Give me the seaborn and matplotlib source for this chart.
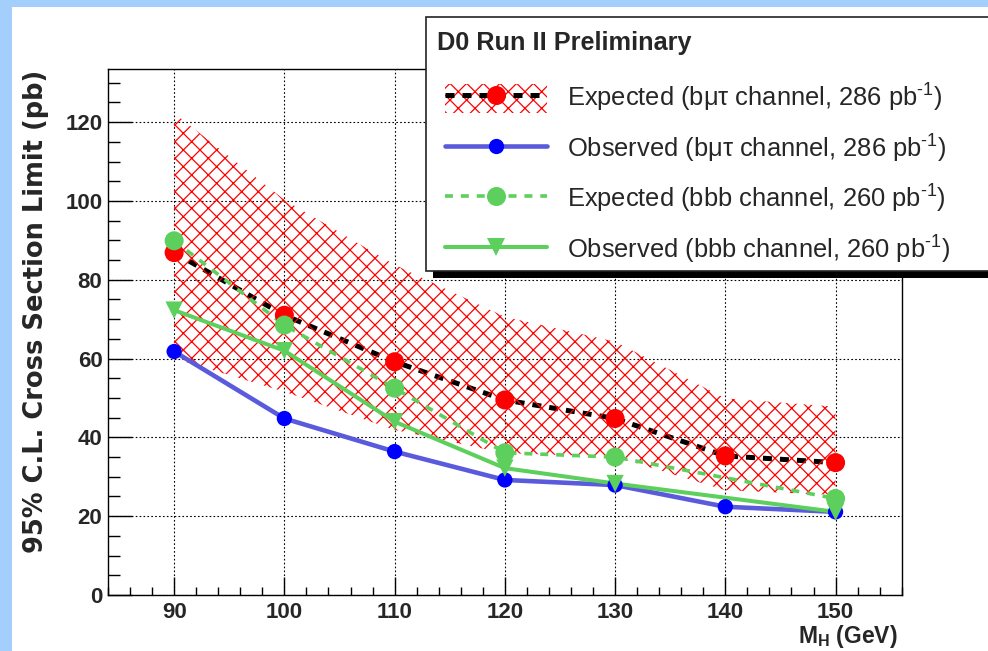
import matplotlib
matplotlib.use("Agg")
import matplotlib.pyplot as plt
import seaborn as sns
from matplotlib.patches import Rectangle, Patch
from matplotlib.lines import Line2D
from matplotlib.ticker import MultipleLocator

# ---------------- data ----------------
mass = [90, 100, 110, 120, 130, 140, 150]
exp_bmt = [86.9, 71.0, 59.2, 49.5, 44.8, 35.3, 33.6]
exp_bmt_lo = [60.0, 51.6, 41.9, 36.0, 35.1, 26.6, 25.4]
exp_bmt_hi = [122.3, 100.3, 83.8, 70.6, 64.3, 49.9, 47.8]
obs_bmt = [61.8, 44.8, 36.4, 29.2, 27.9, 22.4, 21.1]

mass_bbb = [90, 100, 110, 120, 130, 150]
exp_bbb = [89.9, 68.5, 52.5, 36.1, 35.0, 24.5]
obs_bbb = [72.3, 62.0, 44.0, 32.2, 28.3, 21.1]

labels = [
    "Expected (bμτ channel, 286 pb$^{\\text{-}1}$)",
    "Observed (bμτ channel, 286 pb$^{\\text{-}1}$)",
    "Expected (bbb channel, 260 pb$^{\\text{-}1}$)",
    "Observed (bbb channel, 260 pb$^{\\text{-}1}$)",
]
title_text = "D0 Run II Preliminary"
xlabel_text = r"M$_{\mathbf{H}}$ (GeV)"
ylabel_text = "95% C.L. Cross Section Limit (pb)"

# ---------------- style ----------------
sns.set_style("white")
plt.rcParams["font.family"] = ["Liberation Sans", "DejaVu Sans"]
plt.rcParams["mathtext.fontset"] = "custom"
plt.rcParams["mathtext.rm"] = "Liberation Sans"
plt.rcParams["mathtext.bf"] = "Liberation Sans:bold"
plt.rcParams["mathtext.it"] = "Liberation Sans:italic"
plt.rcParams["hatch.linewidth"] = 0.9

RED = "#ff0000"
BLUE_L = "#5a5adc"
BLUE_M = "#0000ff"
GREEN = "#5ccf5c"

W, H = 988, 651
fig = plt.figure(figsize=(W / 100, H / 100), dpi=100, facecolor="#a4cffd")
fig.add_artist(Rectangle((12 / W, 0), 1, 1 - 7 / H, transform=fig.transFigure,
                         facecolor="white", edgecolor="none", zorder=-10))

ax = fig.add_axes([108 / W, 1 - 595 / H, (901.7 - 108) / W, (595 - 69) / H])
ax.set_facecolor("white")

# band
ax.fill_between(mass, exp_bmt_lo, exp_bmt_hi, facecolor="none", edgecolor=RED,
                hatch="xx", linewidth=0, zorder=2.5)

# expected b mu tau
sns.lineplot(x=mass, y=exp_bmt, ax=ax, color="black", lw=3.6,
             linestyle=(0, (1.8, 1.6)), zorder=2)
sns.scatterplot(x=mass, y=exp_bmt, ax=ax, color=RED, s=13.7 ** 2, marker="o",
                edgecolor="none", linewidth=0, zorder=4)

# observed b mu tau
sns.lineplot(x=mass, y=obs_bmt, ax=ax, color=BLUE_L, lw=3.3, zorder=3)
sns.scatterplot(x=mass, y=obs_bmt, ax=ax, color=BLUE_M, s=11.0 ** 2, marker="o",
                edgecolor="none", linewidth=0, zorder=4)

# expected bbb
sns.lineplot(x=mass_bbb, y=exp_bbb, ax=ax, color=GREEN, lw=2.6,
             linestyle=(0, (2.2, 2.2)), zorder=3.2)
sns.scatterplot(x=mass_bbb, y=exp_bbb, ax=ax, color=GREEN, s=13.7 ** 2, marker="o",
                edgecolor="none", linewidth=0, zorder=4.2)

# observed bbb
sns.lineplot(x=mass_bbb, y=obs_bbb, ax=ax, color=GREEN, lw=2.9, zorder=3.3)
sns.scatterplot(x=mass_bbb, y=obs_bbb, ax=ax, color=GREEN, s=12.5 ** 2, marker="v",
                edgecolor="none", linewidth=0, zorder=4.3)

# axes
ax.set_xlim(84, 156)
ax.set_ylim(0, 133.5)
ax.xaxis.set_major_locator(MultipleLocator(10))
ax.xaxis.set_minor_locator(MultipleLocator(2))
ax.yaxis.set_major_locator(MultipleLocator(20))
ax.yaxis.set_minor_locator(MultipleLocator(5))
ax.set_xlabel("")
ax.set_ylabel("")
for s in ax.spines.values():
    s.set_visible(True)
    s.set_color("black")
    s.set_linewidth(1.0)
ax.tick_params(which="both", direction="in", bottom=True, left=True, top=False,
               right=False, color="black", width=1.0)
ax.tick_params(axis="y", which="major", length=17, pad=4, labelsize=16)
ax.tick_params(axis="y", which="minor", length=8.6)
ax.tick_params(axis="x", which="major", length=13, pad=5, labelsize=16)
ax.tick_params(axis="x", which="minor", length=5.5)
for lab in ax.get_xticklabels() + ax.get_yticklabels():
    lab.set_fontweight("bold")
ax.set_axisbelow(True)
ax.grid(True, which="major", color="black", linestyle=(0, (1.5, 2.0)), linewidth=0.8)

fig.text(898 / W, 1 - 643 / H, xlabel_text, ha="right", va="baseline",
         fontsize=16.5, fontweight="bold")
fig.text(36 / W, 1 - 70 / H, ylabel_text, rotation=90, ha="center", va="top",
         fontsize=18.5, fontweight="bold", family=["DejaVu Sans"])

# legend box with shadow
fig.add_artist(Rectangle((433 / W, 1 - 278 / H), (1100 - 433) / W, (271 - 17) / H,
                         transform=fig.transFigure, facecolor="black",
                         edgecolor="none", zorder=5))
fig.add_artist(Rectangle((426 / W, 1 - 271 / H), (1100 - 426) / W, (271 - 17) / H,
                         transform=fig.transFigure, facecolor="white",
                         edgecolor="#222222", linewidth=1.2, zorder=5.1))
fig.text(437 / W, 1 - 50 / H, title_text, ha="left", va="baseline",
         fontsize=18.2, fontweight="bold", zorder=6)

h_exp_bmt = (Patch(facecolor="none", edgecolor=RED, hatch="xx", linewidth=0),
             Line2D([], [], color="black", lw=3.6, linestyle=(0, (1.8, 1.6))),
             Line2D([], [], color=RED, marker="o", markersize=13.7, linestyle="none",
                    markeredgewidth=0))
h_obs_bmt = Line2D([], [], color=BLUE_L, lw=3.3, marker="o", markersize=11.0,
                   markerfacecolor=BLUE_M, markeredgewidth=0)
h_exp_bbb = Line2D([], [], color=GREEN, lw=2.6, linestyle=(0, (2.2, 2.2)), marker="o",
                   markersize=13.7, markeredgewidth=0)
h_obs_bbb = Line2D([], [], color=GREEN, lw=2.9, marker="v", markersize=12.5,
                   markeredgewidth=0)

leg = fig.legend([h_exp_bmt, h_obs_bmt, h_exp_bbb, h_obs_bbb], labels,
                 loc="upper left", bbox_to_anchor=(445 / W, 1 - 82 / H),
                 frameon=False, prop={"size": 18.4}, handlelength=4.0,
                 handleheight=1.4, handletextpad=0.78, labelspacing=0.72,
                 borderpad=0, borderaxespad=0, numpoints=1)
leg.set_zorder(6)

fig.savefig("out.png", dpi=100, facecolor=fig.get_facecolor())
